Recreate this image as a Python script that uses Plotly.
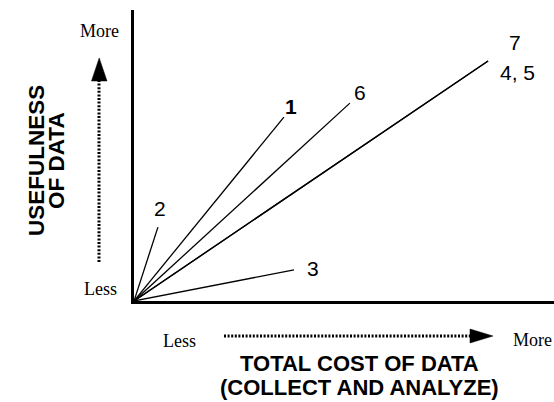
import plotly.graph_objects as go

# ---- data ----
cases = ["1", "2", "3", "4, 5", "6", "7"]
total_cost = [35.7, 5.7, 38.1, 84.3, 51.4, 84.3]      # % of axis
usefulness = [63.2, 25.4, 10.7, 82.5, 68.0, 82.5]      # % of axis

# label offsets in pixels (styling only)
label_shift = {"1": (7, 11), "2": (2, 19), "3": (19, 1), "4, 5": (29, -12), "6": (10, 11), "7": (27, 18)}
bold_cases = {"1"}

W, H = 554, 402
ML, MR, MT, MB = 134, 0, 10, 101
PW, PH = W - ML - MR, H - MT - MB


def px(x):
    return (x - ML) / PW


def py(y):
    return (H - MB - y) / PH


SANS = "Liberation Sans, Arial, sans-serif"
SERIF = "Liberation Serif, Times New Roman, serif"

fig = go.Figure()
for c, x, y in zip(cases, total_cost, usefulness):
    fig.add_trace(go.Scatter(x=[0, x], y=[0, y], mode="lines",
                             line=dict(color="black", width=1.3),
                             showlegend=False, hoverinfo="skip", cliponaxis=False))

annotations = []
for c, x, y in zip(cases, total_cost, usefulness):
    dx, dy = label_shift[c]
    txt = f"<b>{c}</b>" if c in bold_cases else c
    annotations.append(dict(x=x, y=y, xref="x", yref="y", text=txt, showarrow=False,
                            xshift=dx, yshift=dy, xanchor="center", yanchor="middle",
                            font=dict(family=SANS, size=21, color="black")))

def ptext(x, y, text, font, size, angle=0):
    annotations.append(dict(x=px(x), y=py(y), xref="paper", yref="paper", text=text,
                            showarrow=False, xanchor="center", yanchor="middle",
                            textangle=angle,
                            font=dict(family=font, size=size, color="black")))

ptext(99, 31, "More", SERIF, 18)
ptext(100, 289, "Less", SERIF, 18)
ptext(179, 341, "Less", SERIF, 18)
ptext(532, 340, "More", SERIF, 18)
ptext(359, 363, "<b>TOTAL COST OF DATA</b>", SANS, 22)
ptext(359, 387, "<b>(COLLECT AND ANALYZE)</b>", SANS, 22)
ptext(37, 161, "<b>USEFULNESS</b>", SANS, 22.5, -90)
ptext(57, 161, "<b>OF DATA</b>", SANS, 22.5, -90)

shapes = []
dot = dict(color="black", width=3, dash="2px,1.6px")
# vertical dotted arrow
shapes.append(dict(type="line", xref="paper", yref="paper", x0=px(99), x1=px(99),
                   y0=py(262), y1=py(80), line=dot))
shapes.append(dict(type="path", xref="paper", yref="paper",
                   path=f"M {px(91.5)} {py(81)} L {px(107)} {py(81)} L {px(99.2)} {py(58)} Z",
                   fillcolor="black", line=dict(color="black", width=0.5)))
# horizontal dotted arrow
shapes.append(dict(type="line", xref="paper", yref="paper", x0=px(224), x1=px(471),
                   y0=py(336), y1=py(336), line=dot))
shapes.append(dict(type="path", xref="paper", yref="paper",
                   path=f"M {px(470)} {py(329)} L {px(470)} {py(343)} L {px(493)} {py(336)} Z",
                   fillcolor="black", line=dict(color="black", width=0.5)))

fig.update_layout(
    width=W, height=H,
    margin=dict(l=ML, r=MR, t=MT, b=MB),
    paper_bgcolor="white", plot_bgcolor="white",
    annotations=annotations, shapes=shapes,
    xaxis=dict(range=[0, 100], showgrid=False, zeroline=False, showticklabels=False,
               ticks="", showline=True, linecolor="black", linewidth=3, fixedrange=True),
    yaxis=dict(range=[0, 100], showgrid=False, zeroline=False, showticklabels=False,
               ticks="", showline=True, linecolor="black", linewidth=3, fixedrange=True),
)

fig.write_html("out.html", config={"displayModeBar": False},
               post_script="document.body.style.margin='0';document.body.style.overflow='hidden';")
